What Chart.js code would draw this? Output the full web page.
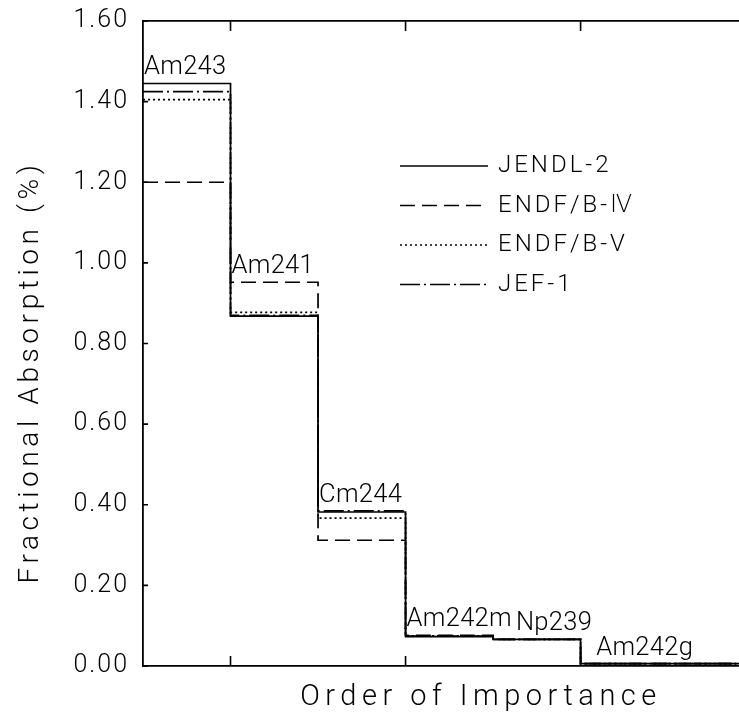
<!DOCTYPE html>
<html>
<head>
<meta charset="utf-8">
<script src="https://cdn.jsdelivr.net/npm/chart.js@4.4.1/dist/chart.umd.min.js"></script>
<style>
  html, body { margin: 0; padding: 0; background: #fff; overflow: hidden; }
  #wrap { width: 739px; height: 719px; position: relative; }
</style>
</head>
<body>
<div id="wrap"><canvas id="chart"></canvas></div>
<script>
// Nuclides in order of importance (one step per nuclide)
const nuclides = ['Am243', 'Am241', 'Cm244', 'Am242m', 'Np239', 'Am242g'];

// Fractional absorption (%) per evaluated library
const jendl2 = [1.445, 0.868, 0.382, 0.073, 0.066, 0.006];
const endfb4 = [1.200, 0.952, 0.312, 0.076, 0.066, 0.006];
const endfb5 = [1.405, 0.877, 0.367, 0.075, 0.066, 0.006];
const jef1   = [1.425, 0.870, 0.385, 0.074, 0.066, 0.006];

const seriesNames = ['JENDL-2', 'ENDF/B-\u2163', 'ENDF/B-V', 'JEF-1'];
const yTickValues = [0.00, 0.20, 0.40, 0.60, 0.80, 1.00, 1.20, 1.40, 1.60];
const xTickEdges = [1, 3, 5];

const yTitle = 'Fractional Absorption (%)';
const xTitle = 'Order of Importance';

const INK = '#000';
const FONT = "Roboto, 'Liberation Sans', 'DejaVu Sans', sans-serif";
const WEIGHT = 300;

// each value holds across its own bin [i, i+1]; the last bin runs off to the right
function steps(vals) {
  const pts = vals.map((v, i) => ({ x: i, y: v }));
  pts.push({ x: vals.length + 1, y: vals[vals.length - 1] });
  return pts;
}

const styles = [
  { dash: [] },
  { dash: [15, 7] },
  { dash: [2, 3] },
  { dash: [20, 4, 2, 4] }
];
const seriesValues = [jendl2, endfb4, endfb5, jef1];

const datasets = seriesValues.map((vals, i) => ({
  label: seriesNames[i],
  data: steps(vals),
  borderColor: INK,
  borderWidth: 1.7,
  borderDash: styles[i].dash,
  pointRadius: 0,
  stepped: true,
  fill: false
}));

function text(ctx, str, x, y, size, spacing, align, baseline) {
  ctx.save();
  ctx.font = `${WEIGHT} ${size}px ${FONT}`;
  ctx.fillStyle = INK;
  ctx.letterSpacing = spacing + 'px';
  ctx.textAlign = align || 'left';
  ctx.textBaseline = baseline || 'alphabetic';
  ctx.fillText(str, x, y);
  const w = ctx.measureText(str).width;
  ctx.restore();
  return w;
}

const decorations = {
  id: 'decorations',
  afterDraw(chart) {
    const ctx = chart.ctx;
    const xs = chart.scales.x;
    const ys = chart.scales.y;
    const area = chart.chartArea;

    // inward tick marks
    ctx.save();
    ctx.strokeStyle = INK;
    ctx.lineWidth = 1.6;
    ctx.beginPath();
    xs.ticks.forEach(t => {
      const px = xs.getPixelForValue(t.value);
      ctx.moveTo(px, area.bottom); ctx.lineTo(px, area.bottom - 10);
      ctx.moveTo(px, area.top); ctx.lineTo(px, area.top + 10);
    });
    ys.ticks.forEach(t => {
      const py = ys.getPixelForValue(t.value);
      ctx.moveTo(area.left, py); ctx.lineTo(area.left + 5, py);
    });
    ctx.stroke();
    ctx.restore();

    // y tick labels
    ys.ticks.forEach(t => {
      text(ctx, t.value.toFixed(2), area.left - 14, ys.getPixelForValue(t.value), 25, 2, 'right', 'middle');
    });

    // nuclide labels above each step; shift right when the previous label sits at a similar height
    let prevEnd = -Infinity, prevY = -Infinity;
    nuclides.forEach((name, i) => {
      const top = Math.max(jendl2[i], endfb4[i], endfb5[i], jef1[i]);
      const y = ys.getPixelForValue(top) - 9;
      let x = xs.getPixelForValue(i) + 1;
      if (Math.abs(y - prevY) < 30) x = Math.max(x, prevEnd + 4);
      const w = text(ctx, name, x, y, 25.5, 0.3, 'left', 'alphabetic');
      prevEnd = x + w;
      prevY = y;
    });

    // legend
    const lx0 = 400, lx1 = 488, ly0 = 166, lstep = 39.5;
    seriesNames.forEach((name, i) => {
      const y = ly0 + i * lstep;
      ctx.save();
      ctx.strokeStyle = INK;
      ctx.lineWidth = 1.6;
      ctx.setLineDash(styles[i].dash);
      ctx.beginPath();
      ctx.moveTo(lx0, y); ctx.lineTo(lx1, y);
      ctx.stroke();
      ctx.restore();
      text(ctx, name, 498, y, 24, 3, 'left', 'middle');
    });

    // axis titles
    ctx.save();
    ctx.translate(31, 372);
    ctx.rotate(-Math.PI / 2);
    text(ctx, yTitle, 0, 0, 28, 4.6, 'center', 'middle');
    ctx.restore();
    text(ctx, xTitle, 481, 705, 29, 5.5, 'center', 'alphabetic');
  }
};

new Chart(document.getElementById('chart'), {
  type: 'line',
  data: { datasets },
  options: {
    responsive: true,
    maintainAspectRatio: false,
    animation: false,
    layout: { padding: { left: 143, right: 0, top: 21, bottom: 53 } },
    plugins: { legend: { display: false }, tooltip: { enabled: false } },
    scales: {
      x: {
        type: 'linear', position: 'bottom',
        min: 0, max: 6.81,
        afterBuildTicks: s => { s.ticks = xTickEdges.map(v => ({ value: v })); },
        ticks: { display: false },
        grid: { display: false, drawTicks: false },
        border: { display: true, color: INK, width: 1.8 }
      },
      x2: {
        type: 'linear', position: 'top',
        min: 0, max: 6.81,
        ticks: { display: false },
        grid: { display: false, drawTicks: false },
        border: { display: true, color: INK, width: 1.8 }
      },
      y: {
        type: 'linear', position: 'left',
        min: 0, max: 1.6,
        afterBuildTicks: s => { s.ticks = yTickValues.map(v => ({ value: v })); },
        ticks: { display: false },
        grid: { display: false, drawTicks: false },
        border: { display: true, color: INK, width: 1.8 }
      }
    }
  },
  plugins: [decorations]
});
</script>
</body>
</html>
